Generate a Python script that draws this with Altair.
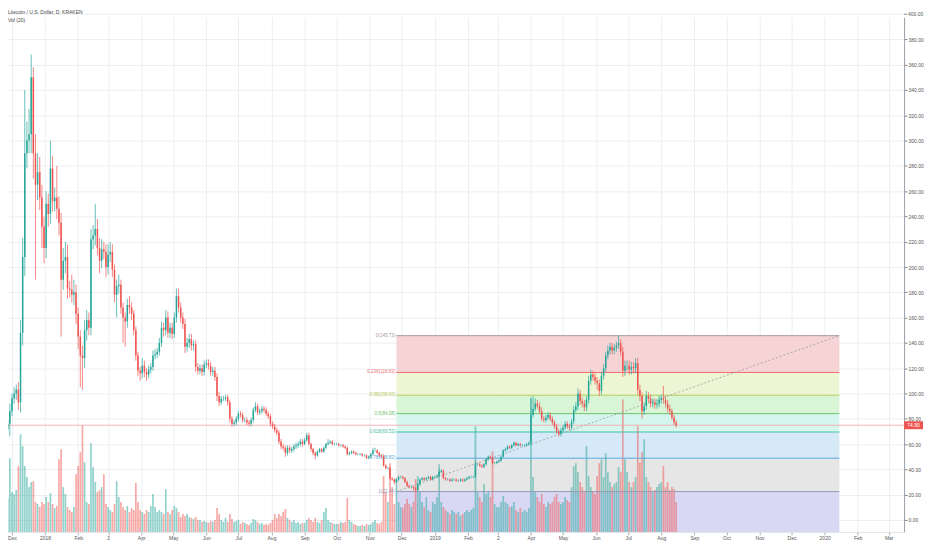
import altair as alt
import pandas as pd

# ---------------- data ----------------
START = "2017-11-27"          # first 2-day candle
FIRST_OPEN = 72
# 2-day closes (one row per month)
closes = [
    76, 86, 96, 100, 103, 93, 148, 208, 290, 300, 305, 350, 290, 265, 275, 255, 232, 215,
    250, 242, 278, 252, 255, 246, 235, 190, 205, 208, 183, 182, 178, 180, 163,
    145, 130, 128, 150, 158, 152, 222, 225, 230, 215, 205, 214, 212, 200,
    210, 212, 198, 178, 185, 186, 168, 160, 157, 170, 168, 163, 150, 130, 118, 116,
    122, 117, 115, 119, 121, 130, 131, 133, 140, 152, 150, 160, 148, 152, 147,
    160, 177, 168, 160, 155, 137, 140, 143, 138, 139, 121, 118, 120, 117, 123,
    124, 122, 117, 118, 113, 98, 93, 96, 96, 97, 93, 80, 76, 77, 80,
    84, 83, 79, 79, 77, 76, 79, 87, 90, 85, 86, 88, 87, 84, 82, 76,
    74, 71, 69, 62, 58, 57, 53, 57, 55, 56, 58, 59, 60, 62, 60,
    63, 67, 60, 56, 53, 51, 54, 56, 54, 57, 60, 61, 62, 60, 60,
    60, 59, 59, 58, 57, 52, 53, 54, 53, 52, 52, 52, 51, 51, 49, 50,
    52, 55, 55, 53, 51, 50, 43, 41, 41, 33, 32, 30, 32, 34, 34,
    33, 30, 27, 26, 26, 25, 24, 28, 32, 33, 32, 33, 34, 32, 34,
    34, 35, 38, 39, 33, 32, 32, 31, 32, 32, 31, 31, 32, 31, 32, 33,
    34, 34, 34, 44, 44, 43, 42, 44, 48, 50, 49, 45, 45, 46,
    47, 50, 55, 56, 58, 57, 59, 61, 59, 60, 59, 59, 59, 60, 61,
    83, 88, 92, 90, 86, 80, 79, 81, 83, 80, 77, 74, 70, 68, 71,
    73, 76, 74, 73, 78, 87, 90, 100, 94, 92, 89, 95, 110, 115, 113, 110,
    108, 102, 114, 120, 130, 134, 137, 134, 136, 138, 140, 133, 118, 122, 122,
    119, 121, 120, 124, 103, 98, 86, 90, 98, 96, 92, 93, 91, 92, 95,
    96, 95, 92, 88, 86, 81, 77, 74.90,
]
# upper wick length above the body
wick_up = [
    3, 6, 4, 5, 4, 6, 10, 15, 50, 15, 20, 18, 8, 15, 15, 12, 10, 8,
    10, 8, 22, 10, 8, 25, 10, 8, 10, 12, 10, 6, 12, 10, 6,
    5, 5, 8, 8, 8, 6, 8, 8, 20, 8, 8, 8, 6, 6,
    8, 8, 6, 4, 5, 8, 4, 4, 4, 5, 7, 4, 3, 3, 3, 3,
    6, 4, 3, 3, 3, 4, 4, 3, 4, 5, 4, 6, 5, 4, 4,
    4, 6, 6, 4, 4, 4, 4, 4, 4, 3, 3, 3, 3, 3, 3,
    3, 3, 3, 3, 3, 3, 3, 2, 2, 2, 2, 2, 2, 2, 2,
    2, 2, 2, 2, 2, 2, 2, 2, 3, 2, 2, 2, 2, 2, 2, 2,
    2, 2, 2, 2, 2, 2, 2, 2, 2, 2, 2, 2, 2, 2, 2,
    2, 2, 2, 1, 1, 1, 1, 1, 1, 1, 1, 3, 1, 1, 1,
    1, 1, 1, 1, 1, 1, 1, 1, 1, 1, 1, 1, 1, 1, 1, 1,
    1, 2, 2, 1, 1, 1, 2, 1, 1, 1, 1, 1, 1, 1, 1,
    1, 1, 1, 1, 1, 1, 1, 1, 1, 1, 1, 1, 1, 1, 1,
    1, 1, 2, 1, 1, 1, 1, 1, 1, 1, 1, 1, 1, 1, 1, 1,
    1, 1, 1, 3, 1, 1, 1, 1, 1, 1, 1, 1, 1, 1,
    1, 1, 1, 1, 1, 1, 1, 1, 1, 1, 1, 1, 1, 1, 1,
    13, 10, 4, 3, 3, 3, 2, 2, 2, 2, 2, 2, 2, 2, 2,
    2, 2, 2, 2, 2, 3, 3, 4, 3, 3, 3, 3, 4, 4, 3, 3,
    3, 3, 3, 3, 3, 4, 3, 3, 3, 3, 5.73, 3, 4, 4, 4,
    4, 4, 4, 4, 4, 4, 3, 3, 4, 3, 3, 3, 3, 3, 3,
    3, 10, 3, 3, 3, 2, 2, 2,
]
# lower wick length below the body
wick_dn = [
    3, 10, 4, 4, 5, 6, 8, 10, 15, 12, 10, 15, 20, 75, 12, 10, 17, 12,
    8, 10, 8, 8, 8, 8, 10, 45, 8, 10, 8, 6, 6, 8, 8,
    10, 25, 25, 8, 8, 6, 6, 8, 8, 6, 10, 6, 6, 8,
    6, 6, 6, 6, 18, 6, 5, 20, 20, 5, 5, 5, 4, 4, 4, 6,
    4, 4, 5, 3, 3, 3, 3, 3, 3, 3, 5, 4, 4, 4, 4,
    3, 4, 4, 4, 4, 5, 4, 4, 4, 4, 4, 3, 3, 3, 3,
    3, 3, 3, 3, 3, 4, 3, 2, 2, 2, 3, 3, 2, 2, 2,
    2, 2, 2, 2, 2, 2, 2, 2, 2, 2, 2, 2, 2, 2, 2, 2,
    2, 2, 2, 2, 2, 2, 3, 2, 2, 2, 2, 2, 2, 2, 2,
    1, 1, 1, 2, 2, 3, 1, 1, 1, 1, 1, 1, 1, 1, 1,
    1, 1, 1, 1, 1, 1, 1, 1, 1, 1, 1, 1, 1, 1, 1, 1,
    1, 1, 1, 1, 1, 1, 1, 1, 1, 1, 1, 2, 1, 1, 1,
    1, 1, 1, 1, 1, 1.5, 1.56, 1, 1, 1, 1, 1, 1, 1, 1,
    1, 1, 1, 1, 1, 1, 1, 1, 1, 1, 1, 1, 1, 1, 1, 1,
    1, 1, 1, 1, 1, 1, 1, 1, 1, 1, 1, 1, 1, 1,
    1, 1, 1, 1, 1, 1, 1, 1, 1, 1, 1, 1, 1, 1, 1,
    2, 2, 2, 2, 2, 2, 2, 2, 2, 2, 2, 2, 2, 2, 2,
    2, 2, 2, 2, 2, 2, 2, 3, 3, 3, 3, 3, 3, 3, 3, 3,
    5, 4, 3, 3, 3, 3, 3, 3, 3, 3, 3, 3, 5, 4, 4,
    4, 4, 4, 4, 4, 4, 6, 3, 3, 3, 3, 3, 3, 3, 3,
    3, 3, 3, 3, 3, 2, 2, 2,
]
# volume (relative units)
volumes = [
    34, 74, 40, 38, 42, 66, 98, 86, 66, 55, 45, 50, 51, 30, 28, 25, 30, 28,
    35, 30, 39, 28, 24, 26, 73, 83, 45, 38, 25, 22, 20, 25, 58,
    66, 80, 107, 70, 30, 28, 89, 65, 50, 40, 42, 45, 58, 28,
    25, 22, 20, 28, 51, 35, 30, 25, 22, 26, 20, 24, 22, 49, 30, 22,
    20, 18, 22, 20, 26, 38, 25, 20, 22, 20, 18, 43, 20, 18, 22,
    26, 24, 20, 15, 18, 16, 18, 15, 14, 13, 15, 12, 12, 10, 11,
    10, 9, 11, 10, 12, 24, 18, 12, 10, 14, 10, 18, 13, 10, 11,
    12, 8, 10, 9, 8, 7, 9, 13, 12, 10, 8, 9, 7, 8, 7, 9,
    12, 18, 14, 18, 16, 20, 23, 14, 12, 10, 12, 9, 10, 8, 9,
    9, 12, 14, 12, 10, 14, 10, 9, 12, 20, 24, 12, 10, 9, 8,
    8, 8, 10, 9, 10, 34, 12, 10, 8, 7, 6, 6, 7, 6, 8, 7,
    8, 10, 12, 9, 8, 10, 56, 40, 30, 69, 45, 28, 53, 30, 25,
    24, 28, 33, 28, 25, 30, 53, 56, 40, 30, 25, 35, 22, 20, 30,
    28, 35, 68, 30, 25, 22, 20, 18, 22, 20, 18, 20, 16, 18, 20, 22,
    20, 22, 24, 106, 40, 35, 30, 48, 38, 40, 35, 81, 28, 25,
    25, 30, 36, 30, 28, 25, 26, 30, 22, 20, 24, 20, 22, 20, 24,
    135, 55, 40, 35, 30, 38, 28, 25, 30, 28, 30, 35, 38, 30, 28,
    30, 35, 32, 30, 45, 66, 69, 60, 50, 45, 40, 86, 56, 45, 40, 38,
    56, 69, 73, 55, 79, 60, 50, 45, 48, 50, 65, 60, 133, 73, 60,
    50, 45, 50, 55, 106, 70, 80, 93, 55, 50, 45, 40, 42, 45, 48,
    50, 66, 45, 50, 42, 45, 43, 30,
]
n = len(closes)
assert len(wick_up) == n and len(wick_dn) == n and len(volumes) == n, (n, len(wick_up), len(wick_dn), len(volumes))

fib_ratios = ["0", "0.236", "0.382", "0.5", "0.618", "0.786", "1"]
fib_prices = [145.73, 116.63, 98.63, 84.08, 69.53, 48.82, 22.44]
fib_line_colors = ["#a8989c", "#ee6e6e", "#b3cd55", "#6fc46f", "#45bca8", "#58a8df", "#9a9ab2"]
fib_band_colors = ["#f6d4d6", "#eef5d5", "#d8f5d6", "#d6f5ed", "#d6e9f7", "#e6e6e6", "#d8d8f5"]
fib_start = "2018-11-26T00:00:00Z"
fib_end = "2020-01-14T19:00:00Z"
last_price = 74.90

month_ticks = ["2017-12-01", "2018-01-01", "2018-02-01", "2018-03-01", "2018-04-01", "2018-05-01",
               "2018-06-01", "2018-07-01", "2018-08-01", "2018-09-01", "2018-10-01", "2018-11-01",
               "2018-12-01", "2019-01-01", "2019-02-01", "2019-03-01", "2019-04-01", "2019-05-01",
               "2019-06-01", "2019-07-01", "2019-08-01", "2019-09-01", "2019-10-01", "2019-11-01",
               "2019-12-01", "2020-01-01", "2020-02-01", "2020-03-01"]
month_labels = ["Dec", "2018", "Feb", "2", "Apr", "May", "Jun", "Jul", "Aug", "Sep", "Oct", "Nov",
                "Dec", "2019", "Feb", "2", "Apr", "May", "Jun", "Jul", "Aug", "Sep", "Oct", "Nov",
                "Dec", "2020", "Feb", "Mar"]
y_ticks = list(range(0, 401, 20))

title_text = "Litecoin / U.S. Dollar, D, KRAKEN"
vol_text = "Vol (20)"

# ---------------- layout constants ----------------
W, H = 900, 517
X_LO = "2017-11-27T06:30:00Z"
X_HI = "2020-03-15T09:36:00Z"
Y_LO, Y_HI = -9.45, 397.64
VOL_MAX = 517
UP, DOWN = "#26a69a", "#ef5350"
FONT = "Liberation Sans"
GRID = "#eceef2"


def ms(s):
    t = pd.Timestamp(s)
    if t.tzinfo is None:
        t = t.tz_localize("UTC")
    return int(t.value // 10**6)


xscale = alt.Scale(type="utc", domain=[ms(X_LO), ms(X_HI)], nice=False, padding=0)
pscale = alt.Scale(domain=[Y_LO, Y_HI], nice=False, zero=False, padding=0)
vscale = alt.Scale(domain=[0, VOL_MAX], nice=False, padding=0)
dir_color = alt.Scale(domain=["up", "down"], range=[UP, DOWN])

# candle table
dates = [(pd.Timestamp(START) + pd.Timedelta(days=2 * i)).strftime("%Y-%m-%dT%H:%M:%SZ") for i in range(n)]
opens = [FIRST_OPEN] + closes[:-1]
highs = [max(o, c) + u for o, c, u in zip(opens, closes, wick_up)]
lows = [min(o, c) - d for o, c, d in zip(opens, closes, wick_dn)]
dirs = ["up" if c >= o else "down" for o, c in zip(opens, closes)]
df = pd.DataFrame({"date": dates, "open": opens, "high": highs, "low": lows,
                   "close": closes, "vol": volumes, "dir": dirs})

bands = pd.DataFrame({
    "start": fib_start, "end": fib_end,
    "top": fib_prices,
    "bottom": fib_prices[1:] + [Y_LO],
    "col": fib_band_colors,
})
levels = pd.DataFrame({
    "start": fib_start, "end": fib_end, "price": fib_prices, "col": fib_line_colors,
    "label": [f"{r}({p:.2f})" for r, p in zip(fib_ratios, fib_prices)],
})
trend = pd.DataFrame({"date": [fib_start, fib_end], "price": [fib_prices[-1], fib_prices[0]]})

lut = ",".join(f"'{d}':'{l}'" for d, l in zip(month_ticks, month_labels))
label_expr = "({" + lut + "})[utcFormat(datum.value, '%Y-%m-%d')]"

x_axis = alt.Axis(values=[ms(t) for t in month_ticks], labelExpr=label_expr, title=None,
                  labelFontSize=5, labelFont=FONT, labelColor="#555", tickSize=3, tickColor="#aaa",
                  labelPadding=1, grid=True, gridColor=GRID, domainColor="#e0e3eb")
y_axis = alt.Axis(orient="right", values=[v for v in y_ticks if v <= Y_HI], format=".2f", title=None,
                  labelFontSize=5, labelFont=FONT, labelColor="#555", tickSize=3, tickColor="#888",
                  labelPadding=1, grid=True, gridColor=GRID, domainColor="#9a9ea8")


def X(field):
    return alt.X(field, scale=xscale, axis=x_axis)


band_layer = alt.Chart(bands).mark_rect().encode(
    x=X("start:T"),
    x2="end:T",
    y=alt.Y("top:Q", scale=pscale, axis=y_axis),
    y2="bottom:Q",
    color=alt.Color("col:N", scale=None),
)

vol_layer = alt.Chart(df).mark_bar(width=1.7, opacity=0.5).encode(
    x=X("date:T"),
    y=alt.Y("vol:Q", scale=vscale, axis=None),
    color=alt.Color("dir:N", scale=dir_color, legend=None),
)

level_layer = alt.Chart(levels).mark_rule(strokeWidth=1).encode(
    x=X("start:T"),
    x2="end:T",
    y=alt.Y("price:Q", scale=pscale, axis=None),
    color=alt.Color("col:N", scale=None),
)

trend_layer = alt.Chart(trend).mark_line(strokeDash=[2, 2], strokeWidth=0.8, color="#9a9a9a").encode(
    x=X("date:T"),
    y=alt.Y("price:Q", scale=pscale, axis=None),
)

label_layer = alt.Chart(levels).mark_text(align="right", baseline="middle", dx=-1, fontSize=4.6, font=FONT).encode(
    x=X("start:T"),
    y=alt.Y("price:Q", scale=pscale, axis=None),
    text="label:N",
    color=alt.Color("col:N", scale=None),
)

last_df = pd.DataFrame({"p": [last_price], "label": [f"{last_price:.2f}"]})
price_line = alt.Chart(last_df).mark_rule(color="#f5a0a6", strokeWidth=0.8).encode(
    y=alt.Y("p:Q", scale=pscale, axis=None),
)

wick_layer = alt.Chart(df).mark_rule(strokeWidth=0.7, clip=True).encode(
    x=X("date:T"),
    y=alt.Y("low:Q", scale=pscale, axis=None),
    y2="high:Q",
    color=alt.Color("dir:N", scale=dir_color, legend=None),
)

body_layer = alt.Chart(df).mark_bar(width=1.5, clip=True).encode(
    x=X("date:T"),
    y=alt.Y("open:Q", scale=pscale, axis=None),
    y2="close:Q",
    color=alt.Color("dir:N", scale=dir_color, legend=None),
)

# ticks above the plot top (400)
extra = pd.DataFrame({"v": [v for v in y_ticks if v > Y_HI]})
extra["label"] = extra["v"].map(lambda v: f"{v:.2f}")
extra_grid = alt.Chart(extra).mark_rule(color=GRID).encode(
    x=alt.value(0), x2=alt.value(W), y=alt.Y("v:Q", scale=pscale, axis=None))
extra_tick = alt.Chart(extra).mark_rule(color="#888").encode(
    x=alt.value(W), x2=alt.value(W + 3), y=alt.Y("v:Q", scale=pscale, axis=None))
extra_text = alt.Chart(extra).mark_text(align="left", baseline="middle", fontSize=5, font=FONT, color="#555").encode(
    x=alt.value(W + 4), y=alt.Y("v:Q", scale=pscale, axis=None), text="label:N")

tag_rect = alt.Chart(last_df).mark_rule(color=DOWN, strokeWidth=8).encode(
    x=alt.value(W), x2=alt.value(W + 19), y=alt.Y("p:Q", scale=pscale, axis=None))
tag_text = alt.Chart(last_df).mark_text(align="center", baseline="middle", fontSize=5, font=FONT, color="white").encode(
    x=alt.value(W + 9.5), y=alt.Y("p:Q", scale=pscale, axis=None), text="label:N")

titles = pd.DataFrame({"t": [title_text, vol_text]})
title_layer = alt.Chart(titles.iloc[[0]]).mark_text(align="left", baseline="middle", fontSize=5, font=FONT, color="#4a4a4a").encode(
    x=alt.value(0), y=alt.value(-5), text="t:N")
vol_title = alt.Chart(titles.iloc[[1]]).mark_text(align="left", baseline="middle", fontSize=5, font=FONT, color="#4a4a4a").encode(
    x=alt.value(0), y=alt.value(3), text="t:N")

chart = alt.layer(
    band_layer, extra_grid, vol_layer, level_layer, trend_layer, label_layer, price_line,
    wick_layer, body_layer, extra_tick, extra_text, tag_rect, tag_text, title_layer, vol_title,
).resolve_scale(y="independent", color="independent").properties(
    width=W, height=H,
    padding={"left": 0, "top": 8, "right": 20, "bottom": 9},
    autosize=alt.AutoSizeParams(type="none"),
    background="white",
).configure_view(stroke=None)

chart.save("out.html", embed_options={"renderer": "svg", "actions": False})
